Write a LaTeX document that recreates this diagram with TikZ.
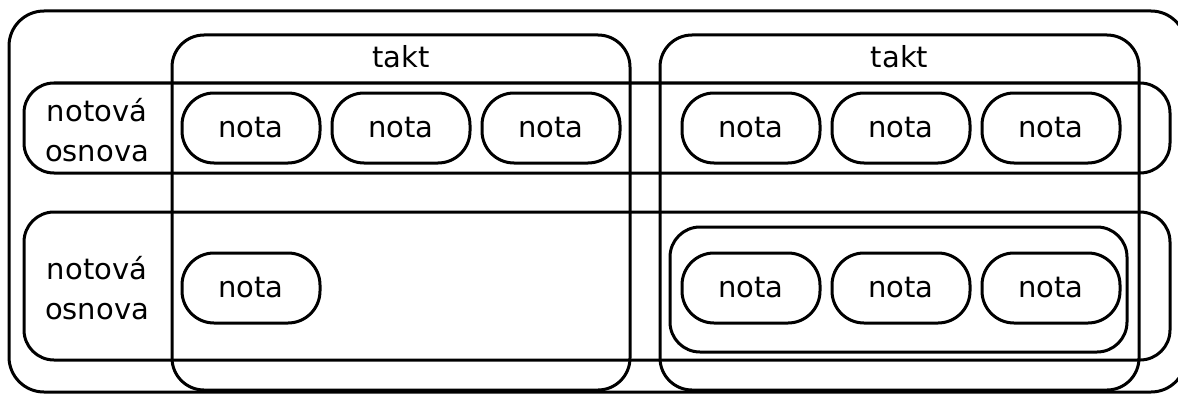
\documentclass[tikz,border=0pt]{standalone}
\usepackage{fontspec}
\setmainfont{DejaVu Sans}
\begin{document}
\begin{tikzpicture}[x=1pt,y=-1pt,line width=3pt,
  box/.style={draw,rounded corners=#1,inner sep=0pt,outer sep=0pt},
  notebox/.style={box=32pt,minimum width=138pt,minimum height=70pt,font=\fontsize{29}{36}\selectfont},
  lbl/.style={inner sep=0pt,font=\fontsize{29}{40}\selectfont,align=center}]
\useasboundingbox (0,0) rectangle (1178,396);
\clip (0,0) rectangle (1178,396);
% outer
\node[box=35pt,minimum width=1177pt,minimum height=381pt] (outer) at (597.5,201.5) {};
% measures
\node[box=32pt,minimum width=458pt,minimum height=355pt] (takt1) at (401,212.5) {};
\node[box=32pt,minimum width=479pt,minimum height=355pt] (takt2) at (899.5,212.5) {};
\node[lbl] (t1) at (401,57) {takt};
\node[lbl] (t2) at (899.5,57) {takt};
% staves
\node[box=30pt,minimum width=1146pt,minimum height=90pt] (staff1) at (597,128) {};
\node[box=30pt,minimum width=1146pt,minimum height=148pt] (staff2) at (597,286) {};
\node[lbl] (s1) at (97,130) {notová\\osnova};
\node[lbl] (s2) at (97,288) {notová\\osnova};
% group
\node[box=30pt,minimum width=457pt,minimum height=125pt] (grp) at (898.5,289.5) {};
% notes row 1
\node[notebox] (n11) at (251,128) {nota};
\node[notebox] (n12) at (401,128) {nota};
\node[notebox] (n13) at (551,128) {nota};
\node[notebox] (n14) at (751,128) {nota};
\node[notebox] (n15) at (901,128) {nota};
\node[notebox] (n16) at (1051,128) {nota};
% notes row 2
\node[notebox] (n21) at (251,288) {nota};
\node[notebox] (n22) at (751,288) {nota};
\node[notebox] (n23) at (901,288) {nota};
\node[notebox] (n24) at (1051,288) {nota};
\end{tikzpicture}
\end{document}
